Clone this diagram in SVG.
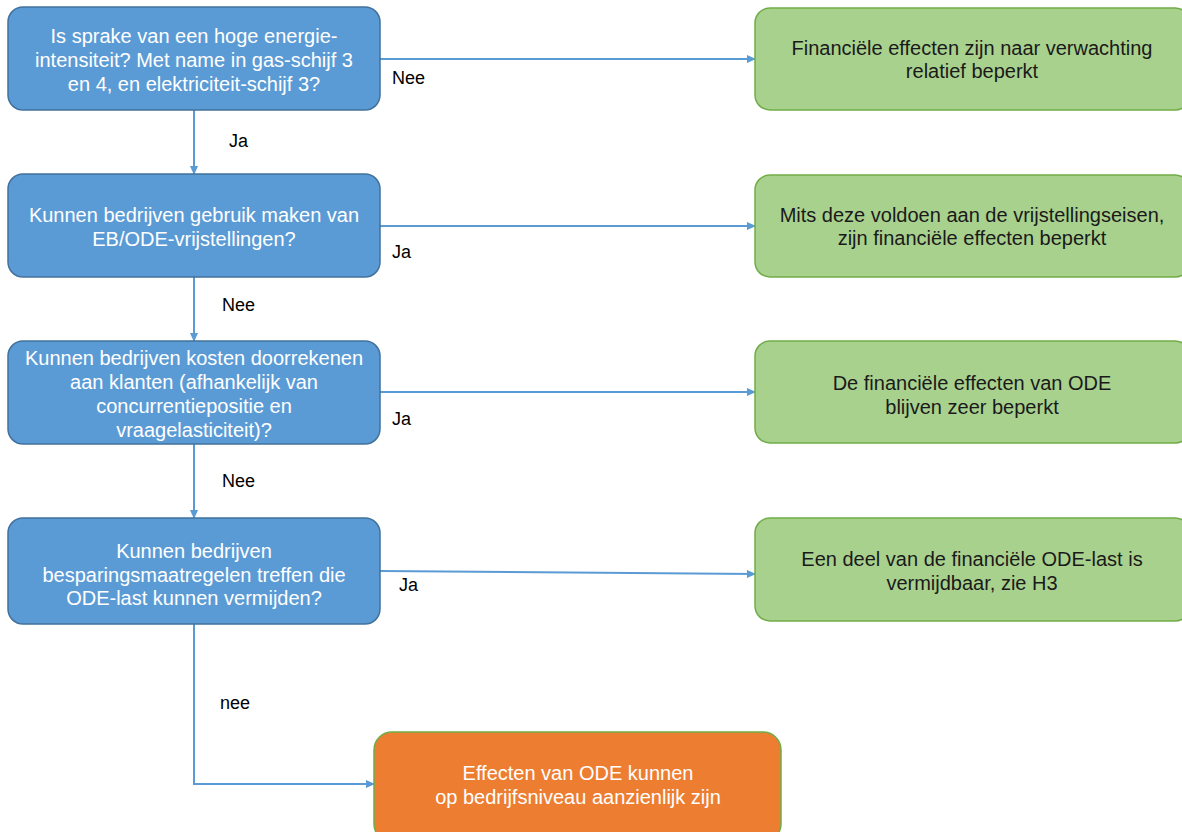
<svg xmlns="http://www.w3.org/2000/svg" width="1182" height="832" viewBox="0 0 1182 832">
<style>
.q rect{fill:#5B9BD5;stroke:#41719C;stroke-width:1.5}
.a rect{fill:#A9D18E;stroke:#70AD47;stroke-width:1.5}
.o rect{fill:#ED7D31;stroke:#70AD47;stroke-width:1.5}
.q text,.o text{fill:#FFFFFF}
.a text{fill:#1A1A1A}
text{font-family:"Liberation Sans",Arial,sans-serif;font-size:20px;text-anchor:middle}
.lbl{font-size:18px;fill:#000;text-anchor:start}
.c path{fill:none;stroke:#5B9BD5;stroke-width:2;marker-end:url(#ah)}
</style>
<defs>
<marker id="ah" markerWidth="10" markerHeight="10" refX="8" refY="5" orient="auto" markerUnits="userSpaceOnUse">
<path d="M0,1 L9,5 L0,9 Z" fill="#5B9BD5"/>
</marker>
</defs>
<rect width="1182" height="832" fill="#FFFFFF"/>
<g id="connectors" class="c">
<path d="M380,59 L755,59"/>
<path d="M380,226 L755,226"/>
<path d="M380,392 L755,392"/>
<path d="M380,571 L755,574"/>
<path d="M194,110 L194,174"/>
<path d="M194,277 L194,341"/>
<path d="M194,444 L194,518"/>
<path d="M194,624 L194,784 L374,784"/>
</g>
<g id="labels">
<text class="lbl" x="392" y="84">Nee</text>
<text class="lbl" x="229" y="147">Ja</text>
<text class="lbl" x="392" y="258">Ja</text>
<text class="lbl" x="222" y="311">Nee</text>
<text class="lbl" x="392" y="425">Ja</text>
<text class="lbl" x="222" y="487">Nee</text>
<text class="lbl" x="399" y="591">Ja</text>
<text class="lbl" x="220" y="709">nee</text>
</g>
<g id="q1" class="q">
<rect x="8" y="7" width="372" height="103" rx="15"/>
<text x="194" y="43">Is sprake van een hoge energie-</text>
<text x="194" y="67">intensiteit? Met name in gas-schijf 3</text>
<text x="194" y="91">en 4, en elektriciteit-schijf 3?</text>
</g>
<g id="q2" class="q">
<rect x="8" y="174" width="372" height="103" rx="15"/>
<text x="194" y="222">Kunnen bedrijven gebruik maken van</text>
<text x="194" y="246">EB/ODE-vrijstellingen?</text>
</g>
<g id="q3" class="q">
<rect x="8" y="341" width="372" height="103" rx="15"/>
<text x="194" y="365">Kunnen bedrijven kosten doorrekenen</text>
<text x="194" y="389">aan klanten (afhankelijk van</text>
<text x="194" y="413">concurrentiepositie en</text>
<text x="194" y="437">vraagelasticiteit)?</text>
</g>
<g id="q4" class="q">
<rect x="8" y="518" width="372" height="106" rx="15"/>
<text x="194" y="558">Kunnen bedrijven</text>
<text x="194" y="582">besparingsmaatregelen treffen die</text>
<text x="194" y="605">ODE-last  kunnen vermijden?</text>
</g>
<g id="a1" class="a">
<rect x="755" y="8" width="435" height="102" rx="15"/>
<text x="972" y="55">Financiële effecten zijn naar verwachting</text>
<text x="972" y="78">relatief beperkt</text>
</g>
<g id="a2" class="a">
<rect x="755" y="175" width="435" height="102" rx="15"/>
<text x="972" y="222">Mits deze voldoen aan de vrijstellingseisen,</text>
<text x="972" y="245">zijn financiële effecten beperkt</text>
</g>
<g id="a3" class="a">
<rect x="755" y="341" width="435" height="102" rx="15"/>
<text x="972" y="390">De financiële effecten van ODE</text>
<text x="972" y="414">blijven zeer beperkt</text>
</g>
<g id="a4" class="a">
<rect x="755" y="518" width="435" height="103" rx="15"/>
<text x="972" y="566">Een deel van de financiële ODE-last is</text>
<text x="972" y="590">vermijdbaar, zie H3</text>
</g>
<g id="end" class="o">
<rect x="374" y="732" width="407" height="110" rx="18"/>
<text x="578" y="780">Effecten van ODE kunnen</text>
<text x="578" y="804">op bedrijfsniveau aanzienlijk zijn</text>
</g>
</svg>
